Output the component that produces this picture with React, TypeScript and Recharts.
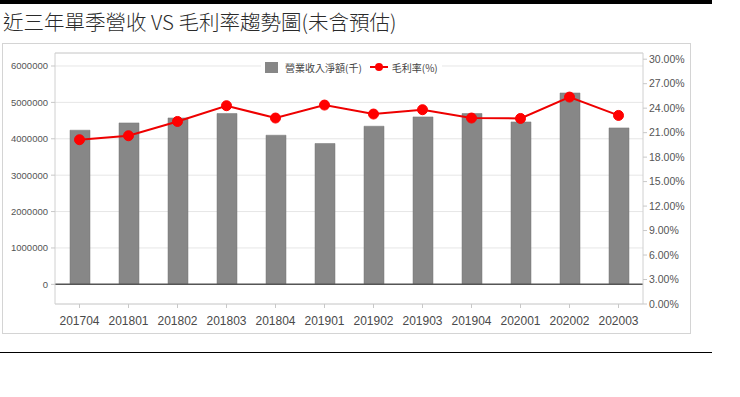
import React from 'react';
import { ComposedChart, Bar, Line, XAxis, YAxis, CartesianGrid, ReferenceLine } from 'recharts';

const quarters = ['201704', '201801', '201802', '201803', '201804', '201901', '201902', '201903', '201904', '202001', '202002', '202003'];
const revenue = [4236000, 4436000, 4573000, 4694000, 4098000, 3870000, 4345000, 4601000, 4694000, 4463000, 5259000, 4299000];
const grossMargin = [20.13, 20.62, 22.37, 24.3, 22.79, 24.38, 23.28, 23.81, 22.79, 22.74, 25.36, 23.11];
const leftTicks = [0, 1000000, 2000000, 3000000, 4000000, 5000000, 6000000];
const rightTicks = [0, 3, 6, 9, 12, 15, 18, 21, 24, 27, 30];

const LEFT_MIN = -540000;
const LEFT_MAX = 6357000;
const RIGHT_MAX = 30.76;

const data = quarters.map((q, i) => ({ quarter: q, revenue: revenue[i], margin: grossMargin[i] }));

const cjkFont = '"Noto Sans CJK TC", "Noto Sans", sans-serif';
const tickFont = '"Liberation Sans", Arial, sans-serif';

export default function App() {
  return (
    <div style={{ position: 'absolute', left: 0, top: 0, width: 740, height: 397, background: '#fff' }}>
      {/* top bar + title */}
      <div style={{ position: 'absolute', left: 0, top: 0, width: 712, height: 4, background: '#000' }} />
      <div style={{ position: 'absolute', left: 3, top: 7, fontFamily: cjkFont, fontSize: 20.5, fontWeight: 300, lineHeight: '28px', color: '#2a2a2a', whiteSpace: 'nowrap' }}>
        近三年單季營收 VS 毛利率趨勢圖(未含預估)
      </div>

      {/* chart box */}
      <div style={{ position: 'absolute', left: 2, top: 43, width: 687, height: 289, border: '1px solid #d4d4d4' }}>
        <ComposedChart
          width={687}
          height={289}
          data={data}
          margin={{ top: 9, right: 0, bottom: 0, left: 0 }}
        >
          <CartesianGrid vertical={false} stroke="#e6e6e6" yAxisId="left" />
          <XAxis
            dataKey="quarter"
            height={29}
            axisLine={{ stroke: '#d0d0d0' }}
            tickLine={{ stroke: '#c8c8c8' }}
            tickSize={4}
            tickMargin={8}
            tick={{ fontSize: 12, fill: '#4a4a4a', fontFamily: tickFont }}
          />
          <YAxis
            yAxisId="left"
            orientation="left"
            width={52}
            domain={[LEFT_MIN, LEFT_MAX]}
            ticks={leftTicks}
            allowDataOverflow
            axisLine={{ stroke: '#d0d0d0' }}
            tickLine={{ stroke: '#c8c8c8' }}
            tickSize={4}
            tickMargin={3}
            tick={{ fontSize: 9.5, fill: '#555', fontFamily: tickFont }}
          />
          <YAxis
            yAxisId="right"
            orientation="right"
            width={47}
            domain={[0, RIGHT_MAX]}
            ticks={rightTicks}
            allowDataOverflow
            axisLine={{ stroke: '#d0d0d0' }}
            tickLine={{ stroke: '#c8c8c8' }}
            tickSize={4}
            tickMargin={2}
            tickFormatter={(v: number) => `${v.toFixed(2)}%`}
            tick={{ fontSize: 10.5, fill: '#555', fontFamily: tickFont }}
          />
          <ReferenceLine yAxisId="left" y={LEFT_MAX} stroke="#d0d0d0" />
          <Bar
            yAxisId="left"
            dataKey="revenue"
            name="營業收入淨額(千)"
            fill="#878787"
            stroke="#777"
            strokeWidth={0.5}
            barSize={20}
            isAnimationActive={false}
          />
          <ReferenceLine yAxisId="left" y={0} stroke="#555" strokeWidth={1.5} />
          <Line
            yAxisId="right"
            type="linear"
            dataKey="margin"
            name="毛利率(%)"
            stroke="#ee0000"
            strokeWidth={2}
            dot={{ r: 5, fill: '#ff0000', stroke: '#ff0000', strokeWidth: 1 }}
            isAnimationActive={false}
          />
        </ComposedChart>

        {/* legend */}
        <div
          style={{
            position: 'absolute',
            left: 258,
            top: 15,
            height: 16,
            padding: '0 4px',
            background: '#fff',
            display: 'flex',
            alignItems: 'center',
            fontFamily: cjkFont,
            fontSize: 10,
            color: '#444',
            whiteSpace: 'nowrap',
          }}
        >
          <span style={{ display: 'inline-block', width: 13, height: 11, background: '#878787', marginRight: 7 }} />
          <span>營業收入淨額(千)</span>
          <svg width={18} height={12} style={{ marginLeft: 8, marginRight: 4 }}>
            <line x1={0} y1={6} x2={18} y2={6} stroke="#ee0000" strokeWidth={2} />
            <circle cx={9} cy={6} r={4} fill="#ff0000" />
          </svg>
          <span>毛利率(%)</span>
        </div>
      </div>

      {/* bottom rule */}
      <div style={{ position: 'absolute', left: 0, top: 352, width: 712, height: 1, background: '#000' }} />
    </div>
  );
}
